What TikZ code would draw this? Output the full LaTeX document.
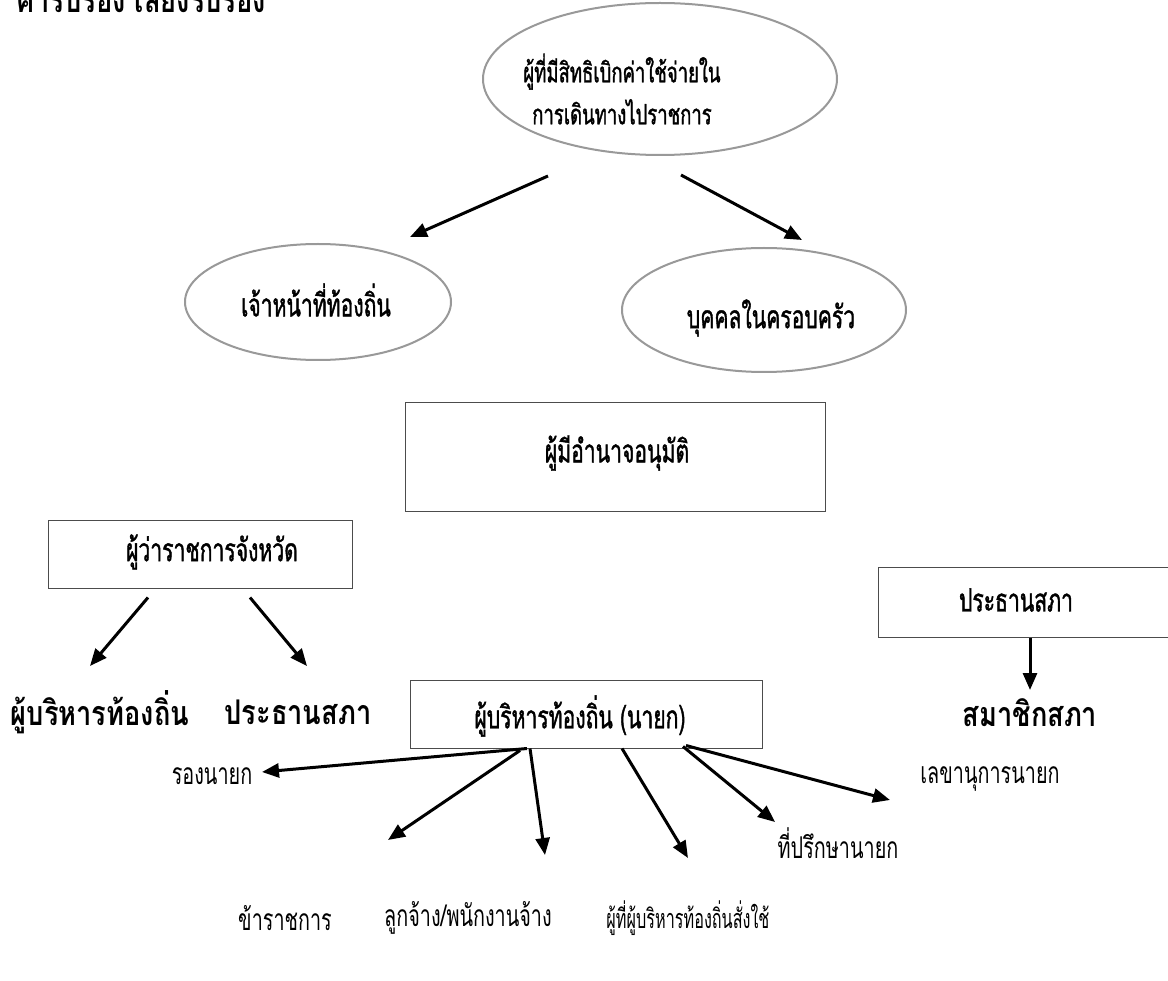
\documentclass[tikz,border=0pt]{standalone}
\usepackage{fontspec}
\newfontfamily\thaimid[Script=Thai,FakeStretch=0.66,FakeBold=1.2]{Loma}
\newfontfamily\thailight[Script=Thai,FakeStretch=0.66]{Loma}
\newfontfamily\thainarrow[Script=Thai,FakeStretch=0.6]{Loma}
\newfontfamily\thaibold[Script=Thai,FakeStretch=0.8]{Loma}
\usetikzlibrary{arrows.meta,shapes.geometric}

\tikzset{
  oval/.style={ellipse, draw=black!40, line width=2pt, inner sep=0pt},
  frame/.style={rectangle, draw=black!70, line width=1pt, inner sep=0pt},
  txt/.style={font=\thaimid\fontsize{32}{42}\selectfont, inner sep=0pt, align=center},
  btxt/.style={font=\thaibold\bfseries\fontsize{34}{38}\selectfont, inner sep=0pt},
  rtxt/.style={font=\thailight\fontsize{30}{34}\selectfont, inner sep=0pt},
  arr/.style={-{Triangle[length=17pt,width=14pt]}, line width=3pt, black},
}

\begin{document}
\begin{tikzpicture}[x=1pt,y=-1pt]
\clip (0,0) rectangle (1168,981);
\fill[white] (0,0) rectangle (1168,981);

% heading, partly cut at the top edge
\node[btxt, anchor=base west] (head) at (16,13) {ค่ารับรอง เลี้ยงรับรอง};

% claim entitlement
\node[oval, minimum width=354pt, minimum height=152pt] (top) at (660,79) {};
\node[txt, font=\thaimid\fontsize{28}{42}\selectfont] (topT) at (622,89) {ผู้ที่มีสิทธิเบิกค่าใช้จ่ายใน\\การเดินทางไปราชการ};

\node[oval, minimum width=266pt, minimum height=116pt] (left) at (318,302) {};
\node[txt] (leftT) at (316,300) {เจ้าหน้าที่ท้องถิ่น};

\node[oval, minimum width=284pt, minimum height=124pt] (right) at (764,310) {};
\node[txt] (rightT) at (771,318) {บุคคลในครอบครัว};

\draw[arr] ([shift={(-112,20)}]top.south) -- ([shift={(92,-6)}]left.north);
\draw[arr] ([shift={(21,19)}]top.south) -- ([shift={(38,-7)}]right.north);

% approving authority
\node[frame, minimum width=420pt, minimum height=109pt] (appr) at (615,457.5) {};
\node[txt] (apprT) at (617,453) {ผู้มีอำนาจอนุมัติ};

\node[frame, minimum width=304pt, minimum height=68pt] (gov) at (200,554) {};
\node[txt] (govT) at (212,552) {ผู้ว่าราชการจังหวัด};

\node[btxt] (exec) at (100,712) {ผู้บริหารท้องถิ่น};
\node[btxt] (chair) at (298,712) {ประธานสภา};
\draw[arr] ([shift={(-52,9)}]gov.south) -- ([shift={(-10,-46)}]exec.center);
\draw[arr] ([shift={(50,9)}]gov.south) -- ([shift={(9,-46)}]chair.center);

\node[frame, minimum width=300pt, minimum height=70pt] (cbox) at (1028,602) {};
\node[txt] (cboxT) at (1016,600) {ประธานสภา};
\node[btxt] (memb) at (1030,713) {สมาชิกสภา};
\draw[arr] ([xshift=2pt]cbox.south) -- ([shift={(0,-23)}]memb.center);

% mayor and those under the mayor
\node[frame, minimum width=352pt, minimum height=68pt] (mayor) at (586,714) {};
\node[txt] (mayorT) at (580,716) {ผู้บริหารท้องถิ่น (นายก)};

\node[rtxt] (dep) at (212,776) {รองนายก};
\node[rtxt] (sec) at (990,779) {เลขานุการนายก};
\node[rtxt] (adv) at (838,843) {ที่ปรึกษานายก};
\node[rtxt] (civ) at (285,918) {ข้าราชการ};
\node[rtxt] (emp) at (468,918) {ลูกจ้าง/พนักงานจ้าง};
\node[rtxt, font=\thainarrow\fontsize{27}{34}\selectfont] (ord) at (688,918) {ผู้ที่ผู้บริหารท้องถิ่นสั่งใช้};

\draw[arr] ([shift={(-59,0)}]mayor.south) -- ([shift={(50,-4)}]dep.center);
\draw[arr] ([shift={(-66,2)}]mayor.south) -- ([shift={(103,-78)}]civ.center);
\draw[arr] ([shift={(-56,0)}]mayor.south) -- ([shift={(77,-63)}]emp.center);
\draw[arr] ([shift={(36,0)}]mayor.south) -- ([shift={(0,-60)}]ord.center);
\draw[arr] ([shift={(97,-2)}]mayor.south) -- ([shift={(-63,-21)}]adv.center);
\draw[arr] ([shift={(100,-3)}]mayor.south) -- ([shift={(-100,21)}]sec.center);
\end{tikzpicture}
\end{document}
